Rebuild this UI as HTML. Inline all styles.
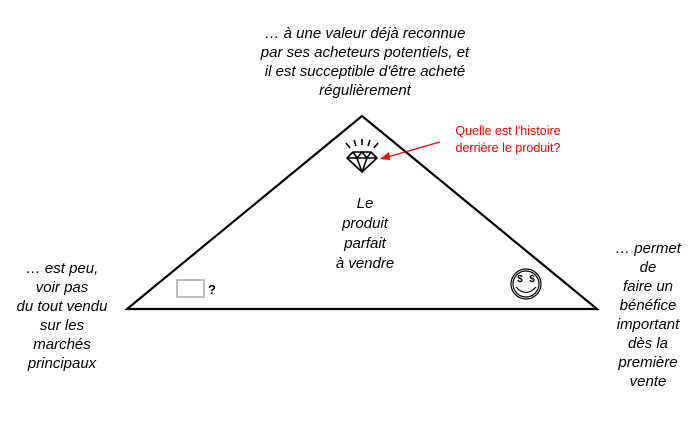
<!DOCTYPE html>
<html><head><meta charset="utf-8"><style>
html,body{margin:0;padding:0;background:#fff;}
</style></head><body>
<svg width="700" height="420" viewBox="0 0 700 420" xmlns="http://www.w3.org/2000/svg" font-family="Liberation Sans, Arial, sans-serif">
<polygon points="362,116 127,309 597,309" fill="none" stroke="#000" stroke-width="2.2" stroke-linejoin="miter"/>
<g font-style="italic" font-size="15" fill="#000" text-anchor="middle">
<text x="365" y="38">… à une valeur déjà reconnue</text>
<text x="365" y="57">par ses acheteurs potentiels, et</text>
<text x="365" y="76">il est succeptible d'être acheté</text>
<text x="365" y="95">régulièrement</text>
<text x="365" y="208">Le</text>
<text x="365" y="228">produit</text>
<text x="365" y="248">parfait</text>
<text x="365" y="268">à vendre</text>
<text x="62" y="273">… est peu,</text>
<text x="62" y="292">voir pas</text>
<text x="62" y="311">du tout vendu</text>
<text x="62" y="330">sur les</text>
<text x="62" y="349">marchés</text>
<text x="62" y="368">principaux</text>
<text x="648" y="253">… permet</text>
<text x="648" y="272">de</text>
<text x="648" y="291">faire un</text>
<text x="648" y="310">bénéfice</text>
<text x="648" y="329">important</text>
<text x="648" y="348">dès la</text>
<text x="648" y="367">première</text>
<text x="648" y="386">vente</text>
</g>
<text x="508" y="135" font-size="12.5" fill="#f00" text-anchor="middle">Quelle est l'histoire</text>
<text x="508" y="152" font-size="12.5" fill="#f00" text-anchor="middle">derrière le produit?</text>
<line x1="440" y1="142" x2="384" y2="158" stroke="#f00" stroke-width="1.3"/>
<polygon points="380,159 389,152 390,160" fill="#f00"/>
<!-- diamond -->
<g stroke="#000" stroke-width="1.6" fill="none" stroke-linejoin="round">
<polygon points="347,158 353,152 371,152 377,158 362,172"/>
<line x1="347" y1="158" x2="377" y2="158"/>
<polyline points="353,152 357,158 362,152 367,158 371,152"/>
<polyline points="357,158 362,172 367,158"/>
<line x1="346" y1="143" x2="350" y2="148"/>
<line x1="354" y1="140" x2="356" y2="146"/>
<line x1="362" y1="139" x2="362" y2="145"/>
<line x1="370" y1="140" x2="368" y2="146"/>
<line x1="378" y1="143" x2="374" y2="148"/>
</g>
<rect x="177" y="280" width="27" height="17" fill="#fff" stroke="#999" stroke-width="1.3"/>
<text x="208" y="294" font-size="13" font-weight="bold">?</text>
<!-- smiley -->
<g stroke="#000" stroke-width="1.2" fill="none">
<circle cx="526" cy="284" r="15"/>
<circle cx="526" cy="284" r="13"/>
<path d="M516,287 Q526,298 536,287"/>
</g>
<text x="520" y="282" font-size="10" font-weight="bold" text-anchor="middle">$</text>
<text x="532" y="282" font-size="10" font-weight="bold" text-anchor="middle">$</text>
</svg>
</body></html>
